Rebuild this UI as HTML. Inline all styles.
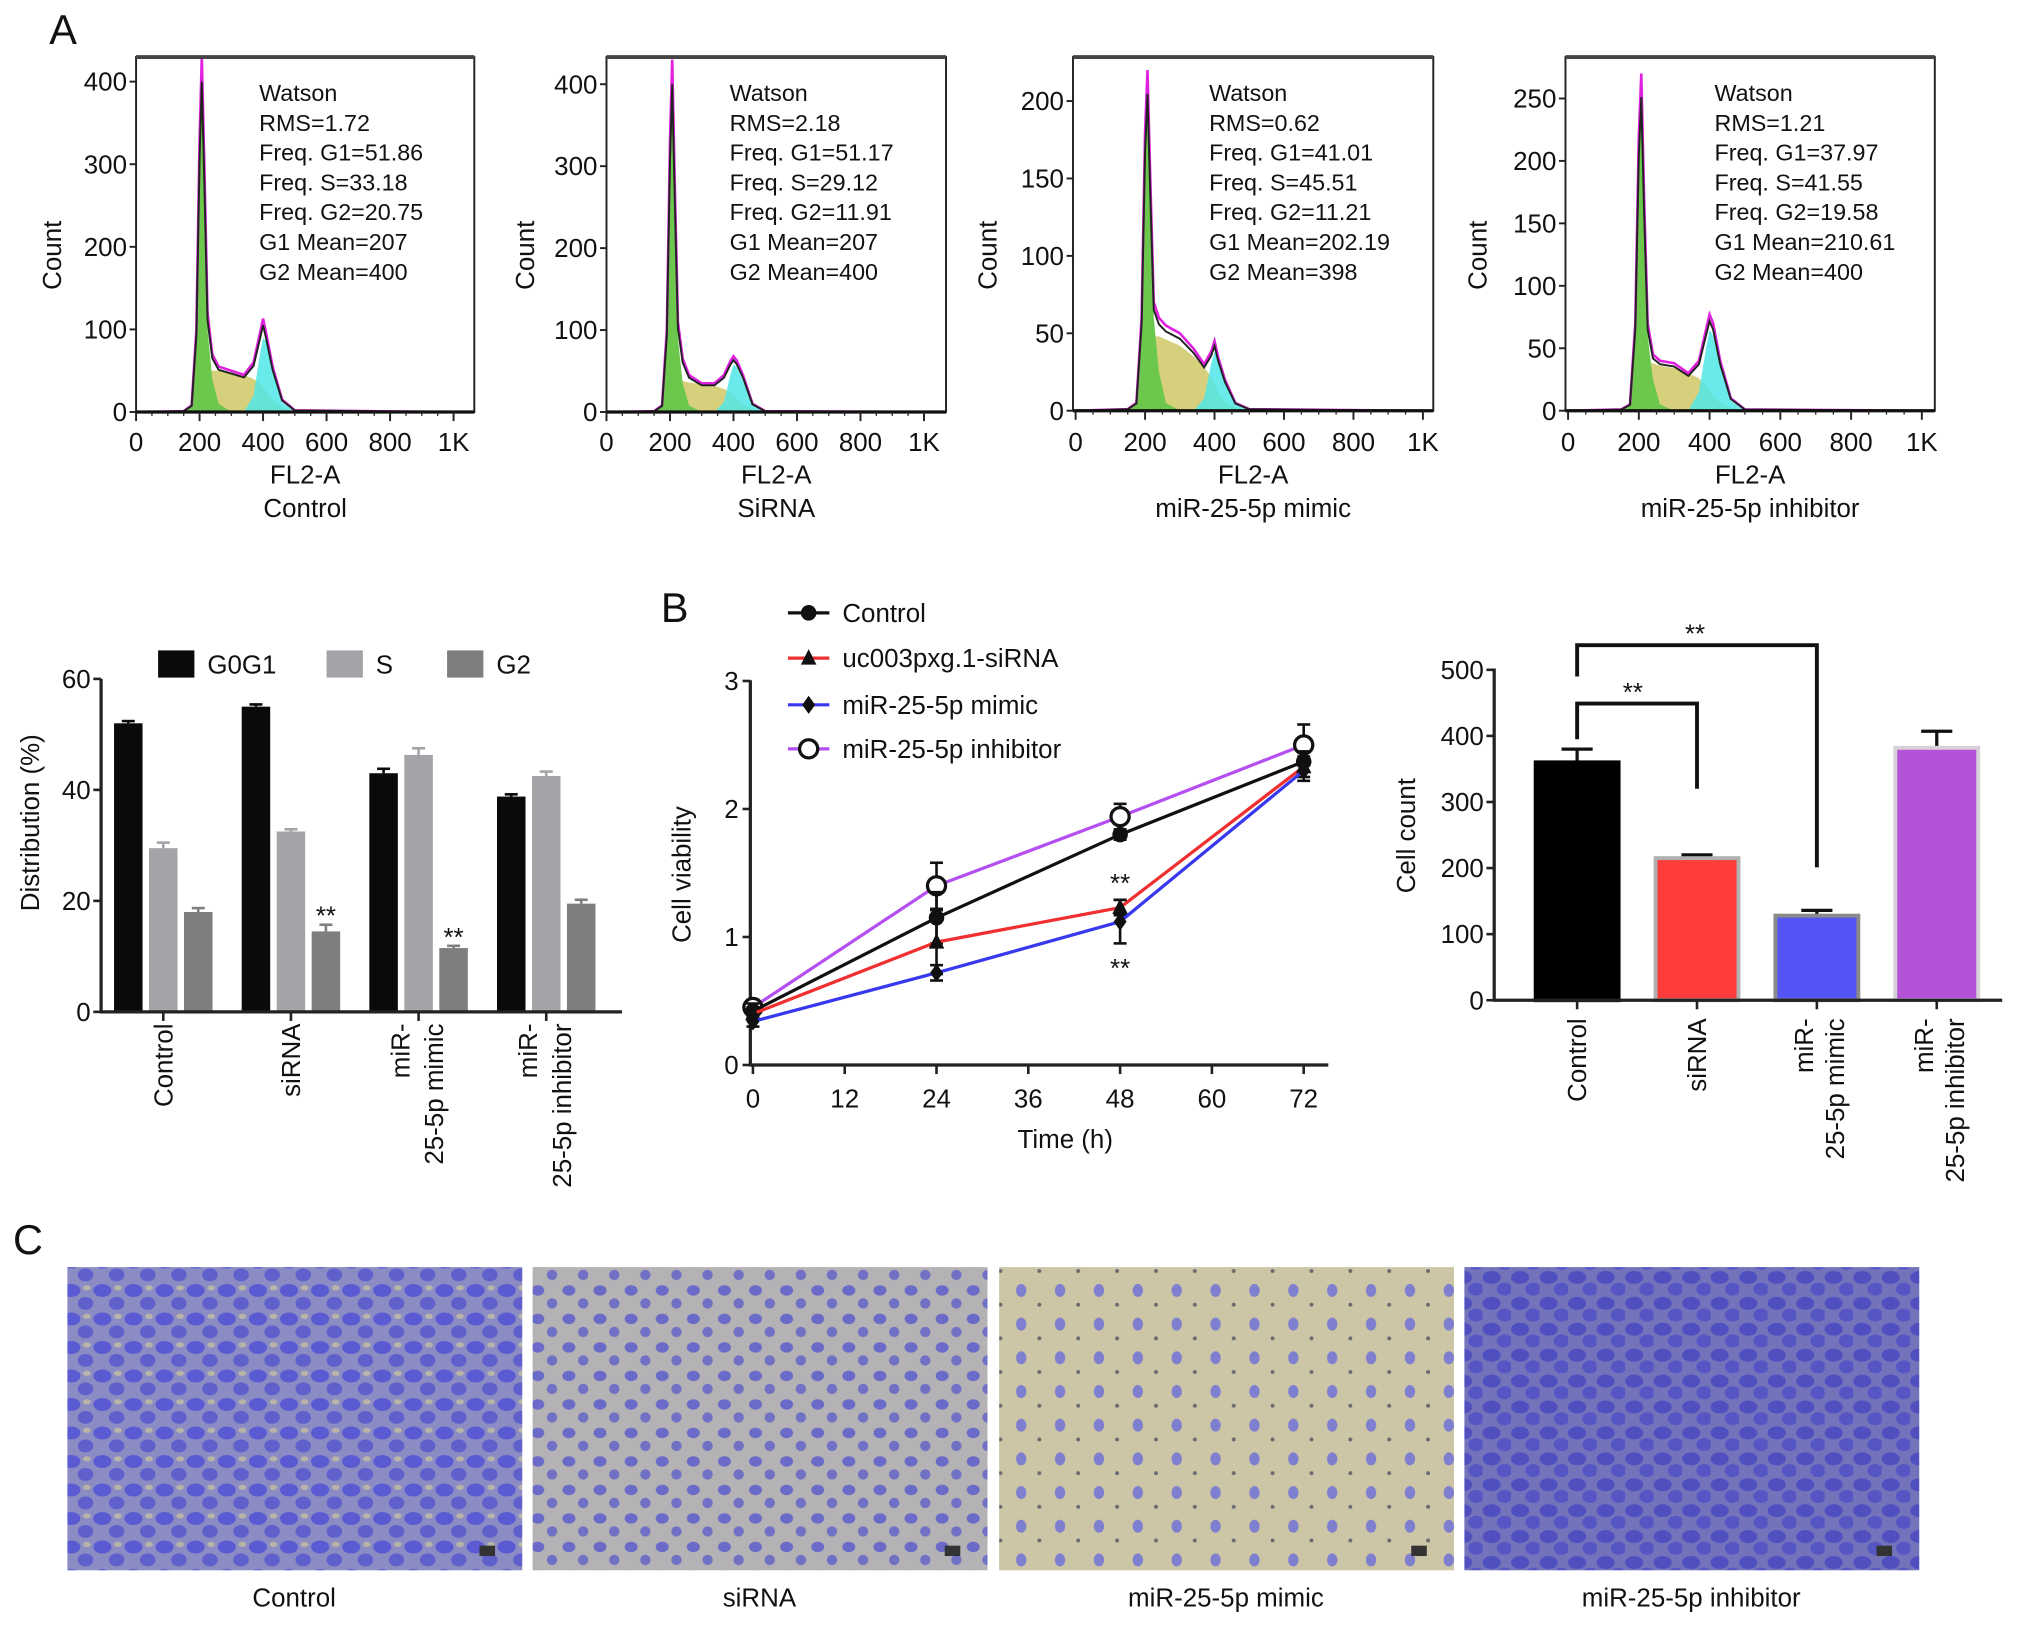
<!DOCTYPE html>
<html><head><meta charset="utf-8"><style>
html,body{margin:0;padding:0;background:#fff;}
svg{display:block;font-family:"Liberation Sans",sans-serif;}
</style></head><body>
<svg id="fig" width="2032" height="1626" viewBox="0 0 1568 1255" preserveAspectRatio="none" xmlns="http://www.w3.org/2000/svg">
<defs>
<pattern id="cells1" width="24" height="22" patternUnits="userSpaceOnUse"><rect width="24" height="22" fill="#8c8cc4"/><ellipse cx="7" cy="6" rx="7" ry="5" fill="#5a5ad2"/><ellipse cx="18" cy="16" rx="6" ry="5" fill="#6060cc"/><ellipse cx="19" cy="4" rx="3" ry="2" fill="#b8b4a8"/></pattern>
<pattern id="cells2" width="24" height="22" patternUnits="userSpaceOnUse"><rect width="24" height="22" fill="#b4b2b4"/><ellipse cx="7" cy="6" rx="5" ry="4" fill="#6a6ac8"/><ellipse cx="18" cy="16" rx="4" ry="4" fill="#7070c4"/></pattern>
<pattern id="cells3" width="30" height="26" patternUnits="userSpaceOnUse"><rect width="30" height="26" fill="#cdc6a6"/><ellipse cx="8" cy="8" rx="4" ry="5" fill="#7f7fd0"/><circle cx="22" cy="19" r="1.5" fill="#6a6a70"/></pattern>
<pattern id="cells4" width="22" height="20" patternUnits="userSpaceOnUse"><rect width="22" height="20" fill="#7373bc"/><ellipse cx="7" cy="6" rx="7" ry="5" fill="#4f4fc0"/><ellipse cx="17" cy="15" rx="6" ry="5" fill="#5555c4"/></pattern>
</defs>
<g id="root"></g>
</svg>
<script>
// ---------- Histogram data ----------
const histX = [0,150,175,190,200,207,215,225,240,260,300,340,370,390,400,410,430,460,500,1000];
const h1Total = [0,1,8,100,330,430,300,120,70,55,50,45,60,95,113,95,55,15,2,0];
const h1G1    = [0,1,8,100,330,400,260,100,40,10,0,0,0,0,0,0,0,0,0,0];
const h1S     = [0,0,0,0,5,15,35,50,50,50,48,45,40,35,30,25,15,5,0,0];
const h1G2    = [0,0,0,0,0,0,0,0,0,0,0,0,20,70,90,85,50,12,0,0];
const h2Total = [0,1,8,100,330,430,280,110,65,45,35,35,45,62,68,63,45,10,1,0];
const h2G1    = [0,1,8,100,330,400,250,90,35,8,0,0,0,0,0,0,0,0,0,0];
const h2S     = [0,0,0,0,5,12,28,38,38,36,34,32,28,24,20,16,10,3,0,0];
const h2G2    = [0,0,0,0,0,0,0,0,0,0,0,0,12,45,58,55,38,8,0,0];
const h3Total = [0,1,5,60,180,220,150,70,60,55,50,40,30,38,45,35,20,5,1,0];
const h3G1    = [0,1,5,60,180,205,140,60,25,5,0,0,0,0,0,0,0,0,0,0];
const h3S     = [0,0,0,0,10,25,40,48,48,46,42,35,28,22,18,12,6,2,0,0];
const h3G2    = [0,0,0,0,0,0,0,0,0,0,0,0,8,30,38,33,18,4,0,0];
const h4Total = [0,1,5,70,220,270,170,70,45,40,38,30,40,65,77,70,40,10,1,0];
const h4G1    = [0,1,5,70,220,250,160,60,25,5,0,0,0,0,0,0,0,0,0,0];
const h4S     = [0,0,0,0,10,22,34,38,38,36,34,30,26,20,16,12,6,2,0,0];
const h4G2    = [0,0,0,0,0,0,0,0,0,0,0,0,15,50,65,60,35,8,0,0];
const histXTicks = [0,200,400,600,800,1000];
const histXTickLabels = ["0","200","400","600","800","1K"];
// ---------- Distribution bar chart data ----------
const distGroups = ["Control","siRNA","miR-25-5p mimic","miR-25-5p inhibitor"];
const distG0G1 = [52,55,43,38.8];
const distS = [29.5,32.5,46.3,42.5];
const distG2 = [18,14.5,11.5,19.5];
const distG0G1Err = [0.4,0.4,0.8,0.4];
const distSErr = [1.0,0.4,1.2,0.8];
const distG2Err = [0.7,1.2,0.4,0.7];
const distTicks = [0,20,40,60];
// ---------- Viability line chart data ----------
const timePoints = [0,24,48,72];
const timeTicks = [0,12,24,36,48,60,72];
const vTicks = [0,1,2,3];
const vControl = [0.42,1.15,1.80,2.37];
const vControlErr = [0.06,0.2,0.04,0.08];
const vSiRNA = [0.40,0.96,1.23,2.33];
const vSiRNAErr = [0.05,0.25,0.06,0.08];
const vMimic = [0.34,0.72,1.12,2.30];
const vMimicErr = [0.04,0.06,0.17,0.08];
const vInhib = [0.45,1.40,1.94,2.50];
const vInhibErr = [0.06,0.18,0.1,0.16];
// ---------- Cell count bar chart ----------
const ccGroups = ["Control","siRNA","miR-25-5p mimic","miR-25-5p inhibitor"];
const ccValues = [360,215,128,382];
const ccErr = [20,5,8,25];
const ccTicks = [0,100,200,300,400,500];

const NS="http://www.w3.org/2000/svg";
const root=document.getElementById('root');
function el(tag,attrs,parent,text){const e=document.createElementNS(NS,tag);for(const k in attrs)e.setAttribute(k,attrs[k]);if(text!==undefined)e.textContent=text;(parent||root).appendChild(e);return e;}
function txt(x,y,s,size,anchor,parent,extra){const t=el('text',Object.assign({x:x,y:y,'font-size':size,'text-anchor':anchor||'start',fill:'#111'},extra||{}),parent,s);return t;}

// Panel letters
let t;
t=txt(38,34,'A',32);
t=txt(510,480,'B',32);
t=txt(10,968,'C',32);

// ---------- Histograms ----------
const hists=[
 {name:'control',box:[105,44,366,318],x0:105,x1k:350,y0:318,yRef:63,ref:400,ticks:[0,100,200,300,400],tot:h1Total,g1:h1G1,s:h1S,g2:h1G2,txt:["Watson","RMS=1.72","Freq. G1=51.86","Freq. S=33.18","Freq. G2=20.75","G1 Mean=207","G2 Mean=400"],tx:200,cond:"Control",countX:40},
 {name:'sirna',box:[468,44,730,318],x0:468,x1k:713,y0:318,yRef:65,ref:400,ticks:[0,100,200,300,400],tot:h2Total,g1:h2G1,s:h2S,g2:h2G2,txt:["Watson","RMS=2.18","Freq. G1=51.17","Freq. S=29.12","Freq. G2=11.91","G1 Mean=207","G2 Mean=400"],tx:563,cond:"SiRNA",countX:405},
 {name:'mimic',box:[828,44,1106,317],x0:830,x1k:1098,y0:317,yRef:78,ref:200,ticks:[0,50,100,150,200],tot:h3Total,g1:h3G1,s:h3S,g2:h3G2,txt:["Watson","RMS=0.62","Freq. G1=41.01","Freq. S=45.51","Freq. G2=11.21","G1 Mean=202.19","G2 Mean=398"],tx:933,cond:"miR-25-5p mimic",countX:762},
 {name:'inhibitor',box:[1208,44,1493,317],x0:1210,x1k:1483,y0:317,yRef:76,ref:250,ticks:[0,50,100,150,200,250],tot:h4Total,g1:h4G1,s:h4S,g2:h4G2,txt:["Watson","RMS=1.21","Freq. G1=37.97","Freq. S=41.55","Freq. G2=19.58","G1 Mean=210.61","G2 Mean=400"],tx:1323,cond:"miR-25-5p inhibitor",countX:1140}
];
hists.forEach(h=>{
 const g=el('g',{});
 
 
 const sx=v=>h.x0+v*(h.x1k-h.x0)/1000;
 const sy=v=>Math.max(h.box[1],h.y0-v*(h.y0-h.yRef)/h.ref);
 const area=(arr,fill,nm)=>{let d='M'+sx(histX[0])+','+h.y0;histX.forEach((x,i)=>{d+=' L'+sx(x)+','+sy(arr[i]);});d+=' L'+sx(histX[histX.length-1])+','+h.y0+'Z';const p=el('path',{d:d,fill:fill},g);};
 area(h.s,'#d6cf7c','s-phase-fill');
 area(h.g1,'#6cc84c','g1-fill');
 area(h.g2,'rgba(80,230,230,0.85)','g2-fill');
 const line=(arr,col,w,nm)=>{let d='';histX.forEach((x,i)=>{d+=(i?' L':'M')+sx(x)+','+sy(arr[i]);});const p=el('path',{d:d,fill:'none',stroke:col,'stroke-width':w},g);};
 line(h.tot,'#e020e0',2,'model-line');
 line(h.tot.map((v,i)=>v*0.93),'#222',1.5,'data-line');
 const [bx,by,bx2,by2]=h.box;
 const r=el('rect',{x:bx,y:by,width:bx2-bx,height:by2-by,fill:'none',stroke:'#222','stroke-width':1.5},g);
 
 el('line',{x1:bx,y1:by,x2:bx2,y2:by,stroke:'#444','stroke-width':3},g);
 el('line',{x1:bx,y1:by2,x2:bx2,y2:by2,stroke:'#111','stroke-width':2.5},g);
 h.ticks.forEach(v=>{const y=h.y0-v*(h.y0-h.yRef)/h.ref;el('line',{x1:bx-5,y1:y,x2:bx,y2:y,stroke:'#222','stroke-width':1.5},g);const tl=txt(bx-7,y+7,String(v),20,'end',g);});
 histXTicks.forEach((v,i)=>{const x=sx(v);el('line',{x1:x,y1:by2,x2:x,y2:by2+7,stroke:'#222','stroke-width':1.5},g);const tl=txt(x,348,histXTickLabels[i],20,'middle',g);});
 for(let v=50;v<1000;v+=50){if(v%200)el('line',{x1:sx(v),y1:by2,x2:sx(v),y2:by2+3,stroke:'#222','stroke-width':1},g);}
 h.txt.forEach((s,i)=>{const tl=txt(h.tx,78+i*23,s,18,'start',g);});
 const cx=(bx+bx2)/2;
 let a=txt(cx,373,'FL2-A',20,'middle',g);
 a=txt(cx,399,h.cond,20,'middle',g);
 a=txt(h.countX,190,'Count',20,'middle',g,{transform:'rotate(-90 '+(h.countX+7)+' 190)'});
});

// ---------- Distribution bar chart ----------
(function(){
 const g=el('g',{});
 
 
 const y=v=>781-v*(257/60);
 const gx=i=>88+i*98.5;
 const bw=22;
 const series=[[distG0G1,distG0G1Err,'#0a0a0a','g0g1'],[distS,distSErr,'#a3a3a8','s'],[distG2,distG2Err,'#7e7e80','g2']];
 distGroups.forEach((name,i)=>{
  series.forEach((s,j)=>{
   const x=gx(i)+j*27;const v=s[0][i],e=s[1][i];
   const r=el('rect',{x:x,y:y(v),width:bw,height:781-y(v),fill:s[2]},g);
   
   el('line',{x1:x+bw/2,y1:y(v),x2:x+bw/2,y2:y(v+e),stroke:s[2],'stroke-width':2},g);
   el('line',{x1:x+bw/2-5,y1:y(v+e),x2:x+bw/2+5,y2:y(v+e),stroke:s[2],'stroke-width':2},g);
  });
  const tx=gx(i)+38;
  el('line',{x1:tx,y1:781,x2:tx,y2:788,stroke:'#222','stroke-width':2},g);
 });
 [[1,'sig-g2-sirna'],[2,'sig-g2-mimic']].forEach(([i,nm])=>{const a=txt(gx(i)+54+11,y(distG2[i]+distG2Err[i])+0,'**',20,'middle',g);});
 el('line',{x1:78,y1:524,x2:78,y2:782,stroke:'#222','stroke-width':2.5},g);
 el('line',{x1:77,y1:781,x2:480,y2:781,stroke:'#222','stroke-width':2.5},g);
 distTicks.forEach(v=>{el('line',{x1:72,y1:y(v),x2:78,y2:y(v),stroke:'#222','stroke-width':2},g);const a=txt(70,y(v)+7,String(v),20,'end',g);});
 let a=txt(30,635,'Distribution (%)',20,'middle',g,{transform:'rotate(-90 30 635)'});
 const labels=[['Control'],['siRNA'],['miR-','25-5p mimic'],['miR-','25-5p inhibitor']];
 labels.forEach((ls,i)=>{const cx=gx(i)+38;ls.forEach((s,k)=>{const xx=cx+(ls.length===2?(k===0?-7:19):7);const b=txt(xx,790,s,20,'end',g,{transform:'rotate(-90 '+xx+' 790)'});});});
 const leg=[['G0G1','#0a0a0a',122],['S','#a3a3a8',252],['G2','#7e7e80',345]];
 leg.forEach(([n,c,x])=>{const r=el('rect',{x:x,y:502,width:28,height:21,fill:c},g);const b=txt(x+38,520,n,20,'start',g);});
})();

// ---------- Cell viability line chart ----------
(function(){
 const g=el('g',{});
 
 
 const x=t=>581+t*(425/72);
 const y=v=>822-v*98.8;
 el('line',{x1:579,y1:525,x2:579,y2:823,stroke:'#222','stroke-width':2.5},g);
 el('line',{x1:578,y1:822,x2:1025,y2:822,stroke:'#222','stroke-width':2.5},g);
 vTicks.forEach(v=>{el('line',{x1:573,y1:y(v),x2:579,y2:y(v),stroke:'#222','stroke-width':2},g);const a=txt(570,y(v)+7,String(v),20,'end',g);});
 timeTicks.forEach(v=>{el('line',{x1:x(v),y1:822,x2:x(v),y2:829,stroke:'#222','stroke-width':2},g);const a=txt(x(v),855,String(v),20,'middle',g);});
 let a=txt(822,886,'Time (h)',20,'middle',g);
 a=txt(533,675,'Cell viability',20,'middle',g,{transform:'rotate(-90 533 675)'});
 const series=[[vInhib,vInhibErr,'#b44ff0','circle','inhibitor'],[vControl,vControlErr,'#111','dot','control'],[vSiRNA,vSiRNAErr,'#f03030','tri','sirna'],[vMimic,vMimicErr,'#3838f0','diamond','mimic']];
 const marker=(cx,cy,type,parent)=>{
  if(type==='circle')return el('circle',{cx:cx,cy:cy,r:7,fill:'#fff',stroke:'#111','stroke-width':2.5},parent);
  if(type==='dot')return el('circle',{cx:cx,cy:cy,r:6,fill:'#111'},parent);
  if(type==='tri')return el('path',{d:'M'+cx+','+(cy-7)+' L'+(cx+6)+','+(cy+5)+' L'+(cx-6)+','+(cy+5)+'Z',fill:'#111'},parent);
  return el('path',{d:'M'+cx+','+(cy-7)+' L'+(cx+5)+','+cy+' L'+cx+','+(cy+7)+' L'+(cx-5)+','+cy+'Z',fill:'#111'},parent);
 };
 series.forEach(s=>{
  const sg=el('g',{},g);
  
  
  let d='';timePoints.forEach((tp,i)=>{d+=(i?' L':'M')+x(tp)+','+y(s[0][i]);});
  el('path',{d:d,fill:'none',stroke:s[2],'stroke-width':2.5},sg);
  timePoints.forEach((tp,i)=>{const v=s[0][i],e=s[1][i];
   el('line',{x1:x(tp),y1:y(v-e),x2:x(tp),y2:y(v+e),stroke:'#111','stroke-width':2},sg);
   el('line',{x1:x(tp)-5,y1:y(v-e),x2:x(tp)+5,y2:y(v-e),stroke:'#111','stroke-width':2},sg);
   el('line',{x1:x(tp)-5,y1:y(v+e),x2:x(tp)+5,y2:y(v+e),stroke:'#111','stroke-width':2},sg);
   const m=marker(x(tp),y(v),s[3],sg);
  });
 });
 a=txt(x(48),y(vSiRNA[2]+vSiRNAErr[2])-6,'**',20,'middle',g);
 a=txt(x(48),y(vMimic[2]-vMimicErr[2])+26,'**',20,'middle',g);
 const leg=[['Control','#111','dot',473],['uc003pxg.1-siRNA','#f03030','tri',508],['miR-25-5p mimic','#3838f0','diamond',544],['miR-25-5p inhibitor','#b44ff0','circle',578]];
 leg.forEach(([n,c,m,yy])=>{const lg=el('g',{},g);el('line',{x1:608,y1:yy,x2:640,y2:yy,stroke:c,'stroke-width':2.5},lg);marker(624,yy,m,lg);txt(650,yy+7,n,20,'start',lg);});
})();

// ---------- Cell count bar chart ----------
(function(){
 const g=el('g',{});
 
 
 const y=v=>772-v*0.51;
 const cx=i=>1217+i*92.5;
 const cols=['#000','#ff3c3c','#5555f5','#b452d8'];
 const strokes=['#000','#b0b0b0','#8a8a8a','#d8d0d8'];
 ccGroups.forEach((n,i)=>{
  const v=ccValues[i],e=ccErr[i];
  el('line',{x1:cx(i),y1:y(v),x2:cx(i),y2:y(v+e),stroke:'#111','stroke-width':2.5},g);
  el('line',{x1:cx(i)-12,y1:y(v+e),x2:cx(i)+12,y2:y(v+e),stroke:'#111','stroke-width':2.5},g);
  const r=el('rect',{x:cx(i)-32,y:y(v),width:64,height:772-y(v),fill:cols[i],stroke:strokes[i],'stroke-width':3},g);
  
  el('line',{x1:cx(i),y1:772,x2:cx(i),y2:779,stroke:'#222','stroke-width':2},g);
 });
 el('line',{x1:1153,y1:516,x2:1153,y2:773,stroke:'#222','stroke-width':2.5},g);
 el('line',{x1:1152,y1:772,x2:1545,y2:772,stroke:'#222','stroke-width':2.5},g);
 ccTicks.forEach(v=>{el('line',{x1:1147,y1:y(v),x2:1153,y2:y(v),stroke:'#222','stroke-width':2},g);const a=txt(1145,y(v)+7,String(v),20,'end',g);});
 let a=txt(1092,645,'Cell count',20,'middle',g,{transform:'rotate(-90 1092 645)'});
 const b1=el('path',{d:'M'+cx(0)+','+y(ccValues[0]+ccErr[0]+15)+' V543 H'+cx(1)+' V'+y(ccValues[1]+ccErr[1]+100),fill:'none',stroke:'#111','stroke-width':3},g);
 
 const b2=el('path',{d:'M'+cx(0)+','+(y(ccValues[0]+ccErr[0]+110))+' V498 H'+cx(2)+' V'+y(ccValues[2]+ccErr[2]+65),fill:'none',stroke:'#111','stroke-width':3},g);
 
 a=txt(1260,541,'**',20,'middle',g);
 a=txt(1308,496,'**',20,'middle',g);
 const labels=[['Control'],['siRNA'],['miR-','25-5p mimic'],['miR-','25-5p inhibitor']];
 labels.forEach((ls,i)=>{ls.forEach((s,k)=>{const xx=cx(i)+(ls.length===2?(k===0?-3:21):7);const b=txt(xx,786,s,20,'end',g,{transform:'rotate(-90 '+xx+' 786)'});});});
})();

// ---------- Micrographs ----------
const micro=[['Control',52,'cells1'],['siRNA',411,'cells2'],['miR-25-5p mimic',771,'cells3'],['miR-25-5p inhibitor',1130,'cells4']];
micro.forEach(([n,x,p],i)=>{
 const g=el('g',{});
 
 
 el('rect',{x:x,y:978,width:351,height:234,fill:'url(#'+p+')'},g);
 el('rect',{x:x+318,y:1193,width:12,height:8,fill:'#333'},g);
 const a=txt(x+175,1240,n,20,'middle',g);
});
</script>
</body></html>
